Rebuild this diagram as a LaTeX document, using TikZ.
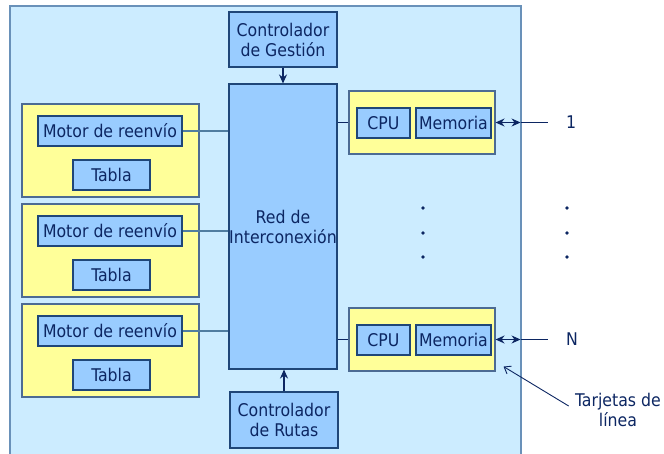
\documentclass[tikz,border=0pt]{standalone}
\usepackage{fontspec}
\setmainfont{DejaVu Sans Condensed}
\usepackage{tikz}
\usetikzlibrary{arrows.meta,positioning}

\definecolor{navy}{RGB}{12,38,98}
\definecolor{edge}{RGB}{31,70,120}
\definecolor{wire}{RGB}{80,125,160}
\definecolor{frame}{RGB}{105,145,185}
\definecolor{skyfill}{RGB}{204,236,255}
\definecolor{boxfill}{RGB}{153,204,255}
\definecolor{cardfill}{RGB}{255,255,153}

\begin{document}
\begin{tikzpicture}[x=1pt, y=-1pt, >={Stealth[length=9pt,width=8pt]},
      font=\fontsize{17.5}{20}\selectfont, text=navy,
      blk/.style={draw=edge, line width=1.1pt, fill=boxfill, align=center, inner sep=0pt},
      card/.style={draw=edge!80, line width=1.1pt, fill=cardfill, inner sep=0pt},
      wire/.style={draw=wire, line width=1.2pt},
      link/.style={draw=navy, line width=1.2pt}]
      \useasboundingbox (0,0) rectangle (664,454);
      \fill[skyfill] (10,6) rectangle (521,460);
      \draw[frame, line width=1.6pt] (10,460) -- (10,6) -- (521,6) -- (521,460);
      % centre column
      \node[blk, minimum width=108, minimum height=55]  (gest) at (283,39.5)  {Controlador\\de Gestión};
      \node[blk, minimum width=108, minimum height=285] (red)  at (283,226.5) {Red de\\Interconexión};
      \node[blk, minimum width=108, minimum height=56]  (rut)  at (284,420)   {Controlador\\de Rutas};
      \draw[link, ->] (gest.south) -- (red.north);
      \draw[link, ->] (rut.north) -- (red.south -| rut.north);
      % forwarding cards
      \foreach \i/\dy in {1/0, 2/100, 3/200} {
        \node[card, minimum width=177, minimum height=93] (lc\i) at (110.5,150.5+\dy) {};
        \node[blk, minimum width=144, minimum height=30] (mot\i) at (110,131+\dy) {Motor de reenvío};
        \node[blk, minimum width=77, minimum height=30]  (tab\i) at (111.5,175+\dy) {Tabla};
        \draw[wire] (mot\i.east) -- (mot\i.east -| red.west);
      }
      % line cards
      \foreach \i/\y/\lbl in {1/122.5/1, 2/339.5/N} {
        \node[card, minimum width=146, minimum height=63] (rc\i) at (422,\y) {};
        \node[blk, minimum width=53, minimum height=30] (cpu\i) at (383.5,\y+0.5) {CPU};
        \node[blk, minimum width=75, minimum height=30] (mem\i) at (453.5,\y+0.5) {Memoria};
        \draw[link] (red.east |- rc\i.west) -- (rc\i.west);
        \coordinate (rim\i) at ([xshift=25]rc\i.east);
        \coordinate (out\i) at ([xshift=52]rc\i.east);
        \draw[link, <->] (rc\i.east) -- (rim\i);
        \draw[link] (rim\i) -- (out\i);
        \node[anchor=west] (port\i) at ([xshift=15]out\i) {\lbl};
      }
      % dots
      \foreach \x in {423,567}
        \foreach \y in {208,233,257}
          \fill[navy] (\x,\y) circle (1.8);
      \node[align=center] (tarj) at (618,410) {Tarjetas de\\línea};
      \draw[navy, line width=0.9pt, -{Straight Barb[length=6pt,width=9pt]}] ([xshift=-3,yshift=4]tarj.west) -- ([shift={(8,-5)}]rc2.south east);
\end{tikzpicture}
\end{document}
